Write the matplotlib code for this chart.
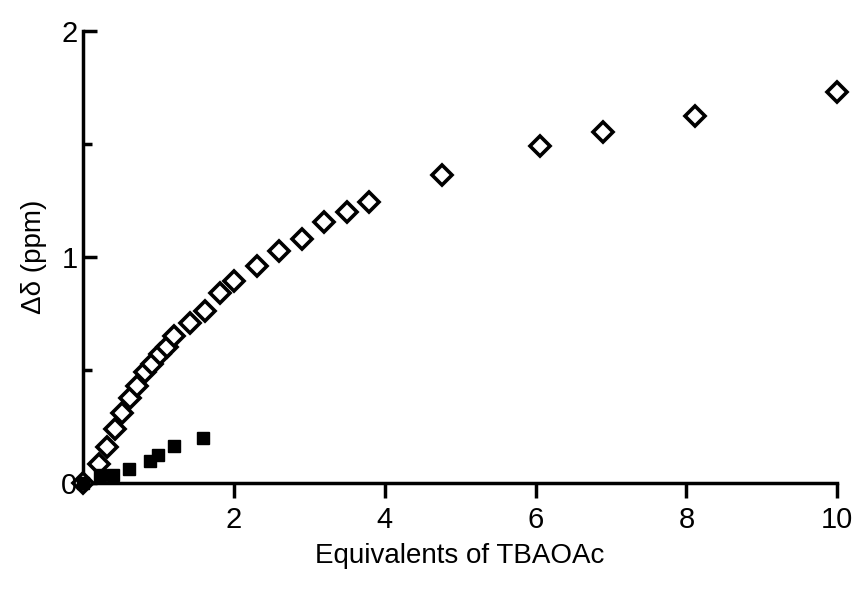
import matplotlib
matplotlib.use('Agg')
from matplotlib import pyplot as plt
from matplotlib.ticker import MultipleLocator

plt.rcParams['font.family'] = ['Liberation Sans', 'DejaVu Sans']

# open diamonds
eq_open = [0.0, 0.21, 0.32, 0.42, 0.52, 0.62, 0.72, 0.82, 0.92, 1.02, 1.11, 1.21,
           1.42, 1.62, 1.81, 2.0, 2.3, 2.6, 2.9, 3.2, 3.5, 3.79, 4.76, 6.06, 6.89,
           8.12, 10.0]
shift_open = [0.0, 0.085, 0.161, 0.240, 0.311, 0.380, 0.432, 0.495, 0.527, 0.573,
              0.605, 0.653, 0.709, 0.763, 0.844, 0.893, 0.962, 1.029, 1.082, 1.158,
              1.198, 1.246, 1.362, 1.490, 1.552, 1.623, 1.731]

# filled squares
eq_filled = [0.0, 0.23, 0.40, 0.61, 0.89, 1.0, 1.21, 1.59]
shift_filled = [0.0, 0.038, 0.038, 0.064, 0.101, 0.126, 0.166, 0.200]

x_ticks = [2, 4, 6, 8, 10]
y_ticks = [0, 1, 2]

fig = plt.figure(figsize=(8.57, 5.92), dpi=100)
ax = fig.add_axes([0.0969, 0.1833, 0.977 - 0.0969, 0.9476 - 0.1833])

ax.plot(eq_open, shift_open, linestyle='none', marker='D', markersize=10,
        markerfacecolor='white', markeredgecolor='black', markeredgewidth=2.6,
        clip_on=False, zorder=3)
ax.plot(eq_filled, shift_filled, linestyle='none', marker='s', markersize=9,
        color='black', clip_on=False, zorder=4)

ax.set_xlim(0, 10)
ax.set_ylim(0, 2)
ax.set_xticks(x_ticks)
ax.set_yticks(y_ticks)
ax.yaxis.set_minor_locator(MultipleLocator(0.5))

for side in ['top', 'right']:
    ax.spines[side].set_visible(False)
for side in ['left', 'bottom']:
    ax.spines[side].set_linewidth(2.5)

ax.tick_params(axis='x', direction='out', length=11, width=2.5, pad=5, labelsize=21)
ax.tick_params(axis='y', which='major', direction='in', length=10, width=2.5,
               pad=4, labelsize=21)
ax.tick_params(axis='y', which='minor', direction='in', length=6.5, width=2.5)

ax.set_xlabel('Equivalents of TBAOAc', fontsize=20, labelpad=7)
ax.set_ylabel('Δδ (ppm)', fontsize=20, labelpad=10)

fig.savefig('out.png', dpi=100)
